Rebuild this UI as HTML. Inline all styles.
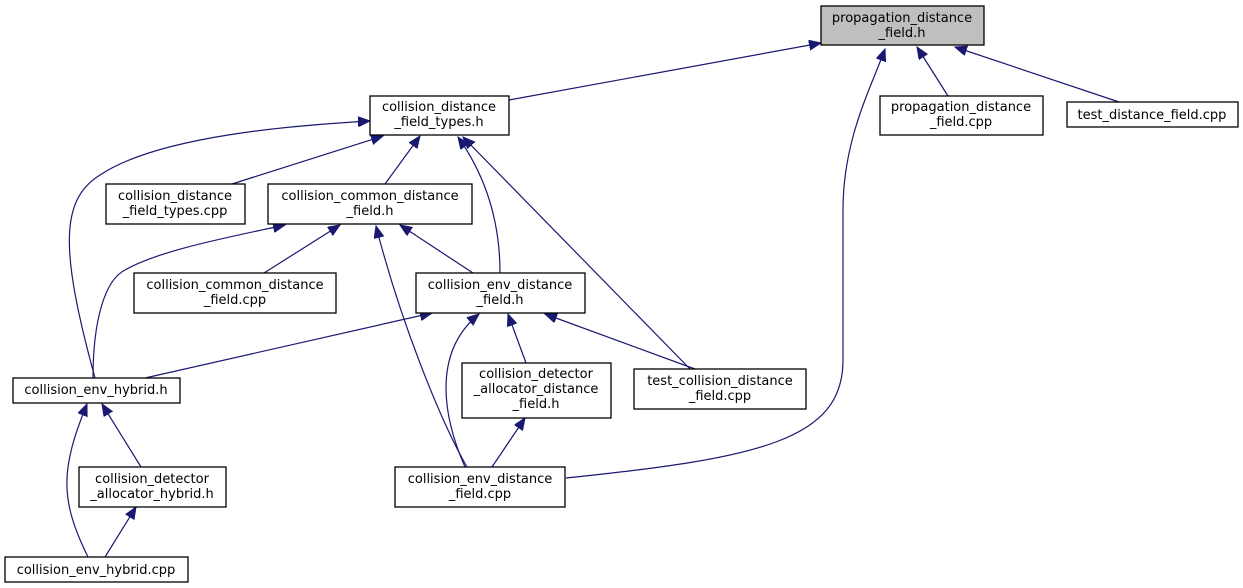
<!DOCTYPE html>
<html><head><meta charset="utf-8"><style>
body{margin:0;background:#fff;width:1243px;height:588px;overflow:hidden}
svg{position:absolute;left:0;top:0}
text{font-family:"DejaVu Sans","Liberation Sans",sans-serif;font-size:13px;fill:#000}
.n{fill:#fff;stroke:#000;stroke-width:1.3}
.e{fill:none;stroke:#191970;stroke-width:1.2}
</style></head><body>
<svg width="1243" height="588" viewBox="0 0 1243 588">
<defs><marker id="a" markerUnits="userSpaceOnUse" markerWidth="14" markerHeight="12" refX="12" refY="5" orient="auto"><path d="M0,0 L12,5 L0,10 z" fill="#191970" stroke="#191970"/></marker></defs>
<g class="e" marker-end="url(#a)">
<path d="M509,100 L821,43"/>
<path d="M948,96 L917,47"/>
<path d="M1119,102 L955,47"/>
<path d="M566,478 C760,458 843,440 843,360 L843,210 C843,140 870,90 885,49"/>
<path d="M232,184 L383,136"/>
<path d="M385,184 L420,136"/>
<path d="M500,273 C500,220 485,175 458,137"/>
<path d="M690,369 L463,137"/>
<path d="M95,378 C60,250 60,200 100,175 C160,135 300,125 370,121"/>
<path d="M264,273 L340,225"/>
<path d="M473,273 L400,225"/>
<path d="M93,378 C93,320 105,280 125,270 C160,250 230,237 285,225"/>
<path d="M467,467 C440,420 400,320 376,226"/>
<path d="M145,378 L432,313"/>
<path d="M526,363 L508,314"/>
<path d="M465,467 C440,410 435,350 479,314"/>
<path d="M695,369 L545,314"/>
<path d="M492,467 L525,418"/>
<path d="M141,467 L102,404"/>
<path d="M88,557 C60,500 60,470 87,404"/>
<path d="M105,557 L136,507"/>
</g>
<rect x="821" y="6" width="163" height="39" fill="#bfbfbf" stroke="#000" stroke-width="1.3"/>
<text x="902" y="22" text-anchor="middle">propagation_distance</text><text x="902" y="37" text-anchor="middle">_field.h</text>
<rect class="n" x="370" y="96" width="139" height="39"/>
<text x="439" y="111" text-anchor="middle">collision_distance</text><text x="439" y="126" text-anchor="middle">_field_types.h</text>
<rect class="n" x="880" y="96" width="163" height="39"/>
<text x="961" y="111" text-anchor="middle">propagation_distance</text><text x="961" y="126" text-anchor="middle">_field.cpp</text>
<rect class="n" x="1067" y="102" width="171" height="25"/>
<text x="1152" y="119" text-anchor="middle">test_distance_field.cpp</text>
<rect class="n" x="106" y="184" width="139" height="40"/>
<text x="175" y="200" text-anchor="middle">collision_distance</text><text x="175" y="215" text-anchor="middle">_field_types.cpp</text>
<rect class="n" x="268" y="184" width="204" height="40"/>
<text x="370" y="200" text-anchor="middle">collision_common_distance</text><text x="370" y="215" text-anchor="middle">_field.h</text>
<rect class="n" x="134" y="273" width="202" height="40"/>
<text x="235" y="289" text-anchor="middle">collision_common_distance</text><text x="235" y="304" text-anchor="middle">_field.cpp</text>
<rect class="n" x="416" y="273" width="169" height="40"/>
<text x="500" y="289" text-anchor="middle">collision_env_distance</text><text x="500" y="304" text-anchor="middle">_field.h</text>
<rect class="n" x="13" y="378" width="167" height="25"/>
<text x="96" y="394" text-anchor="middle">collision_env_hybrid.h</text>
<rect class="n" x="462" y="363" width="149" height="55"/>
<text x="536" y="378" text-anchor="middle">collision_detector</text><text x="536" y="393" text-anchor="middle">_allocator_distance</text><text x="536" y="408" text-anchor="middle">_field.h</text>
<rect class="n" x="634" y="369" width="172" height="40"/>
<text x="720" y="385" text-anchor="middle">test_collision_distance</text><text x="720" y="400" text-anchor="middle">_field.cpp</text>
<rect class="n" x="79" y="467" width="147" height="40"/>
<text x="152" y="483" text-anchor="middle">collision_detector</text><text x="152" y="498" text-anchor="middle">_allocator_hybrid.h</text>
<rect class="n" x="395" y="467" width="170" height="40"/>
<text x="480" y="483" text-anchor="middle">collision_env_distance</text><text x="480" y="498" text-anchor="middle">_field.cpp</text>
<rect class="n" x="5" y="557" width="183" height="25"/>
<text x="96" y="574" text-anchor="middle">collision_env_hybrid.cpp</text>
</svg>
</body></html>
